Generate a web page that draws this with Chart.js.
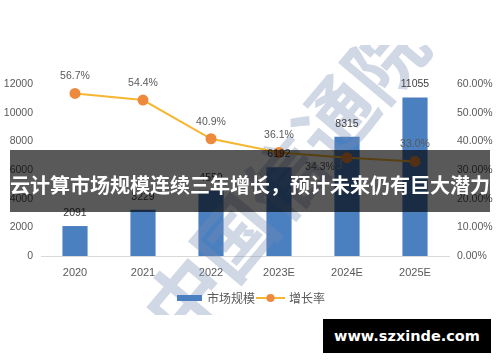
<!DOCTYPE html>
<html>
<head>
<meta charset="utf-8">
<script src="https://cdn.jsdelivr.net/npm/chart.js@4"></script>
<style>
  html, body { margin: 0; padding: 0; background: #fff; }
  #wrap { position: relative; width: 500px; height: 362px; overflow: hidden; }
  #banner {
    position: absolute; left: 10px; top: 150px; width: 480px; height: 62px;
    background: rgba(0, 0, 0, 0.65); color: #fff;
    font: bold 20px "Noto Sans CJK SC", sans-serif;
    text-align: center; line-height: 70px; white-space: nowrap;
  }
  #site {
    position: absolute; left: 323px; top: 319px; width: 168px; height: 34px;
    background: #000; color: #fff;
    font: bold 14.5px "DejaVu Sans", sans-serif;
    text-align: center; line-height: 34px;
  }
</style>
</head>
<body>
<div id="wrap">
  <canvas id="c" width="500" height="362"></canvas>
  <div id="banner">云计算市场规模连续三年增长，预计未来仍有巨大潜力</div>
  <div id="site">www.szxinde.com</div>
</div>
<script>
const categories = ['2020', '2021', '2022', '2023E', '2024E', '2025E'];
const marketSize = [2091, 3229, 4550, 6192, 8315, 11055];
const growthRate = [56.7, 54.4, 40.9, 36.1, 34.3, 33.0];
const leftTicks = [0, 2000, 4000, 6000, 8000, 10000, 12000];
const rightTicks = [0, 10, 20, 30, 40, 50, 60];
const seriesNames = ['市场规模', '增长率'];

const barColor = '#4a7fc0';
const lineColor = '#f5b731';
const dotColor = '#ed8a3d';
const textColor = '#595959';

// label for 34.3% sits left-below its point, with a small leader line
const rateLabelShift = { 4: [-27, 9] };

const watermark = {
    id: 'watermark',
    afterDatasetDraw(chart, args) {
        if (args.index !== 1) return;
        const ctx = chart.ctx;
        ctx.save();
        ctx.beginPath();
        ctx.rect(0, 45, 500, 270);
        ctx.clip();
        ctx.translate(285, 178);
        ctx.rotate(-50 * Math.PI / 180);
        ctx.fillStyle = 'rgba(120, 140, 180, 0.35)';
        ctx.font = 'bold 78px "Noto Sans CJK SC"';
        ctx.textAlign = 'center';
        ctx.textBaseline = 'middle';
        ctx.fillText('中国信通院', 0, 0);
        ctx.restore();
    }
};

const labels = {
    id: 'labels',
    afterDraw(chart) {
        const ctx = chart.ctx;
        ctx.save();
        ctx.textAlign = 'center';
        ctx.textBaseline = 'middle';
        ctx.font = '10.5px "Liberation Sans"';

        // bar values
        ctx.fillStyle = '#404040';
        chart.getDatasetMeta(1).data.forEach((bar, i) => {
            ctx.fillText(String(marketSize[i]), bar.x, bar.y - 13);
        });

        // growth rate values
        ctx.fillStyle = textColor;
        chart.getDatasetMeta(0).data.forEach((pt, i) => {
            const s = rateLabelShift[i];
            if (s) {
                const lx = pt.x + s[0], ly = pt.y + s[1];
                ctx.fillText(growthRate[i].toFixed(1) + '%', lx, ly);
                ctx.strokeStyle = '#a6a6a6';
                ctx.lineWidth = 1;
                ctx.beginPath();
                ctx.moveTo(lx + 17, ly + 1.5);
                ctx.lineTo(pt.x - 6, ly + 1.5);
                ctx.lineTo(pt.x - 6, pt.y + 2);
                ctx.stroke();
            } else {
                ctx.fillText(growthRate[i].toFixed(1) + '%', pt.x, pt.y - 17);
            }
        });

        // legend
        const ly = 298;
        ctx.fillStyle = barColor;
        ctx.fillRect(177, ly - 3, 25, 6);
        ctx.fillStyle = textColor;
        ctx.textAlign = 'left';
        ctx.font = '12px "Noto Sans CJK SC"';
        ctx.fillText(seriesNames[0], 207, ly);
        ctx.strokeStyle = lineColor;
        ctx.lineWidth = 2;
        ctx.beginPath();
        ctx.moveTo(256, ly);
        ctx.lineTo(285, ly);
        ctx.stroke();
        ctx.fillStyle = dotColor;
        ctx.beginPath();
        ctx.arc(270.5, ly, 4, 0, Math.PI * 2);
        ctx.fill();
        ctx.fillStyle = textColor;
        ctx.fillText(seriesNames[1], 289, ly);
        ctx.restore();
    }
};

const tickFont = { family: '"Liberation Sans"', size: 10.5 };

new Chart(document.getElementById('c'), {
    type: 'bar',
    data: {
        labels: categories,
        datasets: [
            {
                type: 'line',
                label: seriesNames[1],
                data: growthRate,
                yAxisID: 'y1',
                borderColor: lineColor,
                borderWidth: 2,
                pointRadius: 4.5,
                pointBackgroundColor: dotColor,
                pointBorderColor: dotColor,
                tension: 0,
                order: 0
            },
            {
                type: 'bar',
                label: seriesNames[0],
                data: marketSize,
                yAxisID: 'y',
                backgroundColor: barColor,
                barPercentage: 0.37,
                categoryPercentage: 1,
                order: 1
            }
        ]
    },
    options: {
        responsive: false,
        animation: false,
        devicePixelRatio: 1,
        layout: { padding: { top: 84, bottom: 0, left: 0, right: 0 } },
        plugins: { legend: { display: false }, tooltip: { enabled: false } },
        scales: {
            x: {
                grid: { display: false },
                border: { color: '#d9d9d9' },
                ticks: { color: textColor, font: { family: '"Liberation Sans"', size: 11 }, padding: 2 },
                afterFit(scale) { scale.height = 106; }
            },
            y: {
                position: 'left',
                min: 0, max: 12000,
                grid: { display: false },
                border: { display: false },
                afterBuildTicks(scale) { scale.ticks = leftTicks.map(v => ({ value: v })); },
                ticks: { color: textColor, font: tickFont, padding: 0, callback: v => String(v) },
                afterFit(scale) { scale.width = 41; }
            },
            y1: {
                position: 'right',
                min: 0, max: 60,
                grid: { display: false },
                border: { display: false },
                afterBuildTicks(scale) { scale.ticks = rightTicks.map(v => ({ value: v })); },
                ticks: { color: textColor, font: tickFont, padding: 0, callback: v => v.toFixed(2) + '%' },
                afterFit(scale) { scale.width = 51; }
            }
        }
    },
    plugins: [watermark, labels]
});
</script>
</body>
</html>
